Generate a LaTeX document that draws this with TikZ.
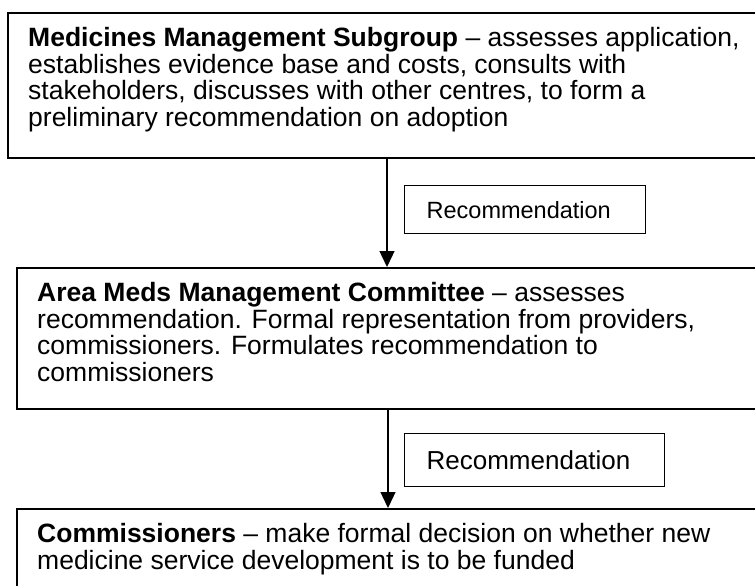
\documentclass[tikz,border=0pt]{standalone}
\usepackage{fontspec}
\setmainfont{Liberation Sans}
\usetikzlibrary{arrows.meta}
\begin{document}
\begin{tikzpicture}[x=1pt,y=-1pt,>={Triangle[width=15pt,length=16pt]},line join=miter,
	stage/.style={draw,line width=1.6pt,anchor=north west,inner sep=0pt,minimum width=800pt},
	txt/.style={anchor=north west,inner sep=0pt,align=left,font=\fontsize{26.5}{26.7}\selectfont},
	rec/.style={draw,line width=1.3pt,anchor=north west,inner xsep=22pt,inner ysep=0pt,align=left},
	flow/.style={->,line width=1.3pt}]
	\useasboundingbox (0,0) rectangle (755,586);
	\clip (0,0) rectangle (755,586);
	% stages, cut off at the right and the bottom
	\node[stage,minimum height=145pt] (msg) at (7,12) {};
	\node[stage,minimum height=141pt] (amc) at (16,267) {};
	\node[stage,minimum height=120pt] (com) at (16,508) {};
	\node[txt] (msgtext) at ([xshift=21pt,yshift=-15pt]msg.north west) {\textbf{Medicines Management Subgroup} -- assesses application,\\
		establishes evidence base and costs, consults with\\
		stakeholders, discusses with other centres, to form a\\
		preliminary recommendation on adoption};
	\node[txt] (amctext) at ([xshift=21pt,yshift=-15pt]amc.north west) {\textbf{Area Meds Management Committee} -- assesses\\
		recommendation. Formal representation from providers,\\
		commissioners. Formulates recommendation to\\
		commissioners};
	\node[txt] (comtext) at ([xshift=21pt,yshift=-15pt]com.north west) {\textbf{Commissioners} -- make formal decision on whether new\\
		medicine service development is to be funded};
	% labels
	\node[rec,minimum width=241pt,minimum height=48pt,text width=197pt,font=\fontsize{23.5}{27}\selectfont] (rec1) at (404,185) {Recommendation};
	\node[rec,minimum width=260pt,minimum height=53pt,text width=216pt,font=\fontsize{26}{29}\selectfont] (rec2) at (404,433) {Recommendation};
	% arrows
	\draw[flow] ([xshift=380pt]msg.south west) -- ([xshift=371pt]amc.north west);
	\draw[flow] ([xshift=372pt]amc.south west) -- ([xshift=372pt]com.north west);
\end{tikzpicture}
\end{document}
